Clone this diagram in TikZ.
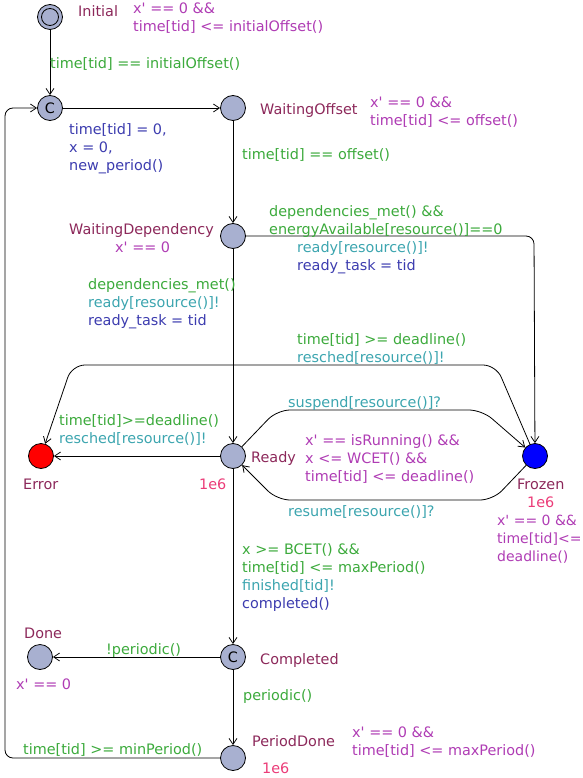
\documentclass[tikz,border=0pt]{standalone}
\usepackage{fontspec}
\setmainfont{DejaVu Sans}
\usetikzlibrary{arrows.meta}
\definecolor{locfill}{RGB}{168,176,208}
\definecolor{namecol}{RGB}{140,40,90}
\definecolor{invcol}{RGB}{175,60,180}
\definecolor{guardcol}{RGB}{60,170,60}
\definecolor{synccol}{RGB}{60,165,175}
\definecolor{updcol}{RGB}{60,60,175}
\definecolor{ratecol}{RGB}{235,60,120}
\newcommand{\apo}{\textquotesingle}
\begin{document}
\begin{tikzpicture}[x=1pt,y=-1pt,
  every node/.style={font=\fontsize{14.4}{18}\selectfont},
  loc/.style={circle,draw,line width=0.8pt,fill=locfill,minimum size=25pt,inner sep=0pt},
  txt/.style={inner sep=0pt,anchor=base west},
  mtxt/.style={inner sep=0pt,anchor=north west,align=left},
  edge/.style={draw,line width=0.8pt,-{Straight Barb[length=6pt,width=8pt]},rounded corners=8pt},
  redge/.style={edge,rounded corners=13pt}
]
\useasboundingbox (0,0) rectangle (582,778);

% locations
\node[loc,path picture={\draw[line width=0.8pt] (path picture bounding box.center) circle (8.5pt);}] (init) at (50,17) {};
\node[loc] (start) at (50,108) {C};
\node[loc] (wo) at (233,108) {};
\node[loc] (wd) at (233,236) {};
\node[loc] (ready) at (233,456) {};
\node[loc,fill=red] (error) at (41,456) {};
\node[loc,fill=blue] (frozen) at (535,456) {};
\node[loc] (completed) at (233,657) {C};
\node[loc] (done) at (40,657) {};
\node[loc] (pd) at (233,758) {};

% edges
\draw[edge] (init) -- (start);
\draw[edge] (start) -- (wo);
\draw[edge] (wo) -- (wd);
\draw[edge] (wd) -- (534,236) -- (frozen);
\draw[edge] (wd) -- (ready);
\draw[edge] (ready) -- (error);
\draw[redge] (frozen) -- (496,365) -- (72,365) -- (error);
\draw[redge] (ready) -- (277,410) -- (482,410) -- (frozen);
\draw[redge] (frozen) -- (493,500) -- (277,500) -- (ready);
\draw[edge] (ready) -- (completed);
\draw[edge] (completed) -- (done);
\draw[edge] (completed) -- (pd);
\draw[edge] (pd) -- (5,758) -- (5,108) -- (start);

% location names, invariants, rates
\node[txt,namecol] (n-init) at (78,17) {Initial};
\node[mtxt,invcol] (i-init) at (133,2.2) {x\apo{} == 0 \&\&\\time[tid] <= initialOffset()};
\node[txt,namecol] (n-wo) at (260,115) {WaitingOffset};
\node[mtxt,invcol] (i-wo) at (370,96.2) {x\apo{} == 0 \&\&\\time[tid] <= offset()};
\node[txt,namecol] (n-wd) at (69,234) {WaitingDependency};
\node[txt,invcol] (i-wd) at (115,252) {x\apo{} == 0};
\node[txt,namecol] (n-ready) at (251,462) {Ready};
\node[txt,ratecol] (r-ready) at (199,489) {1e6};
\node[mtxt,invcol] (i-ready) at (305,434.2) {x\apo{} == isRunning() \&\&\\x <= WCET() \&\&\\time[tid] <= deadline()};
\node[txt,namecol] (n-error) at (23,489) {Error};
\node[txt,namecol] (n-frozen) at (517,489) {Frozen};
\node[txt,ratecol] (r-frozen) at (527,507) {1e6};
\node[mtxt,invcol,font=\fontsize{14}{18}\selectfont] (i-frozen) at (497,515.4) {x\apo{} == 0 \&\&\\time[tid]<=\\deadline()};
\node[txt,namecol] (n-done) at (24,638) {Done};
\node[txt,invcol] (i-done) at (16,689) {x\apo{} == 0};
\node[txt,namecol] (n-completed) at (260,664) {Completed};
\node[txt,namecol] (n-pd) at (252,746) {PeriodDone};
\node[mtxt,invcol] (i-pd) at (352,726.2) {x\apo{} == 0 \&\&\\time[tid] <= maxPeriod()};
\node[txt,ratecol] (r-pd) at (262,773) {1e6};

% edge labels
\node[txt,guardcol] (g1) at (50,69) {time[tid] == initialOffset()};
\node[mtxt,updcol] (u2) at (69,123.2) {time[tid] = 0,\\x = 0,\\new\_period()};
\node[txt,guardcol] (g3) at (242,160) {time[tid] == offset()};
\node[mtxt,guardcol] (g4) at (269,205.2) {dependencies\_met() \&\&\\energyAvailable[resource()]==0};
\node[txt,synccol] (s4) at (297,252) {ready[resource()]!};
\node[txt,updcol] (u4) at (297,270) {ready\_task = tid};
\node[txt,guardcol] (g5) at (88,289) {dependencies\_met()};
\node[txt,synccol] (s5) at (88,307) {ready[resource()]!};
\node[txt,updcol] (u5) at (88,325) {ready\_task = tid};
\node[txt,guardcol] (g7) at (297,344) {time[tid] >= deadline()};
\node[txt,synccol] (s7) at (297,362) {resched[resource()]!};
\node[txt,synccol] (s8) at (288,407) {suspend[resource()]?};
\node[txt,guardcol] (g6) at (59,425) {time[tid]>=deadline()};
\node[txt,synccol] (s6) at (59,443) {resched[resource()]!};
\node[txt,synccol] (s9) at (288,516) {resume[resource()]?};
\node[mtxt,guardcol] (g10) at (242,543.2) {x >= BCET() \&\&\\time[tid] <= maxPeriod()};
\node[txt,synccol] (s10) at (242,590) {finished[tid]!};
\node[txt,updcol] (u10) at (242,608) {completed()};
\node[txt,guardcol] (g11) at (106,654) {!periodic()};
\node[txt,guardcol] (g12) at (243,700) {periodic()};
\node[txt,guardcol] (g13) at (23,754) {time[tid] >= minPeriod()};
\end{tikzpicture}
\end{document}
